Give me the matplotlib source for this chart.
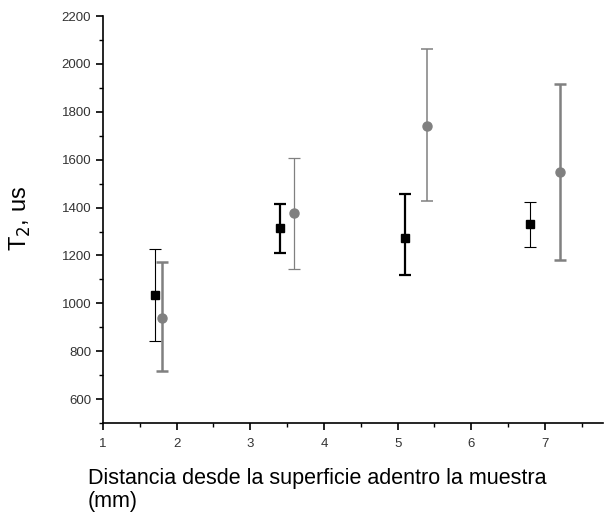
import numpy as np
import matplotlib
matplotlib.use("Agg")
import matplotlib.pyplot as plt
from matplotlib.ticker import MultipleLocator

plt.rcParams['font.family'] = ['Liberation Sans', 'DejaVu Sans']

# serie 1 (negro, cuadrados)
x_negro = [1.7, 3.4, 5.1, 6.8]
y_negro = [1034, 1315, 1272, 1332]
sup_negro = [1225, 1415, 1457, 1422]
inf_negro = [842, 1210, 1118, 1237]
lw_negro = [0.8, 1.6, 1.6, 0.8]

# serie 2 (gris, circulos)
x_gris = [1.8, 3.6, 5.4, 7.2]
y_gris = [939, 1376, 1742, 1547]
sup_gris = [1172, 1608, 2062, 1915]
inf_gris = [717, 1142, 1426, 1180]
lw_gris = [1.8, 0.9, 1.1, 1.8]

fig = plt.figure(figsize=(6.04, 5.19), dpi=100)
ax = fig.add_axes([0.1705, 0.185, 0.828, 0.784])

for i in range(4):
    ax.errorbar(x_negro[i], y_negro[i],
                yerr=[[y_negro[i] - inf_negro[i]], [sup_negro[i] - y_negro[i]]],
                fmt='s', color='black', ms=6, elinewidth=lw_negro[i],
                capsize=4, capthick=lw_negro[i])
    ax.errorbar(x_gris[i], y_gris[i],
                yerr=[[y_gris[i] - inf_gris[i]], [sup_gris[i] - y_gris[i]]],
                fmt='o', color='#808080', ms=6.5, elinewidth=lw_gris[i],
                capsize=4, capthick=lw_gris[i])

ax.set_xlim(1, 7.79)
ax.set_ylim(500, 2200)
ax.xaxis.set_major_locator(MultipleLocator(1))
ax.xaxis.set_minor_locator(MultipleLocator(0.5))
ax.yaxis.set_major_locator(MultipleLocator(200))
ax.yaxis.set_minor_locator(MultipleLocator(100))
ax.set_yticks(np.arange(600, 2201, 200))

for s in ['top', 'right']:
    ax.spines[s].set_visible(False)
for s in ['left', 'bottom']:
    ax.spines[s].set_linewidth(1.2)
ax.tick_params(which='major', direction='out', length=5, width=1.2, labelsize=9.5,
               labelcolor='#333333')
ax.tick_params(axis='x', which='major', pad=6)
ax.tick_params(which='minor', direction='out', length=3, width=1.0)

fig.text(20 / 604, 1 - 218 / 519, 'T$_2$, us', fontsize=17, rotation=90,
         ha='center', va='center')
fig.text(88 / 604, 1 - 490 / 519, 'Distancia desde la superficie adentro la muestra\n(mm)',
         fontsize=15.5, ha='left', va='center', linespacing=1.1)

fig.savefig('out.png', dpi=100)
